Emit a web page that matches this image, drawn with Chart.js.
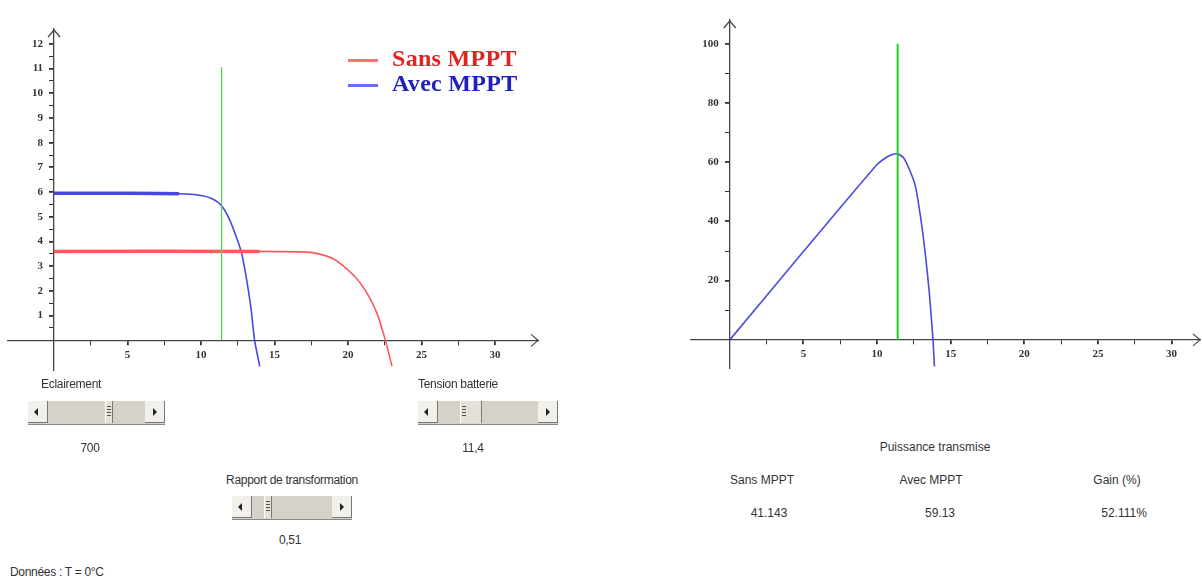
<!DOCTYPE html>
<html>
<head>
<meta charset="utf-8">
<script src="https://cdn.jsdelivr.net/npm/chart.js@4/dist/chart.umd.min.js"></script>
<style>
  body { margin: 0; background: #fff; }
  #wrap { position: relative; width: 1202px; height: 580px; overflow: hidden; font-family: "Liberation Sans", Arial, sans-serif; color: #333; }
  canvas { position: absolute; }
  .lbl { position: absolute; font-size: 12px; white-space: nowrap; letter-spacing: -0.3px; }
  .ctr { transform: translateX(-50%); }
  .legend { position: absolute; font-family: "Liberation Serif", "Times New Roman", serif; font-weight: bold; font-size: 24px; letter-spacing: 0.3px; white-space: nowrap; }
  .legend i { position: absolute; left: -44px; top: 14px; width: 30px; height: 3px; }
  .sb { position: absolute; height: 23px; background: #d6d2ca; border-bottom: 1px solid #888; }
  .sb .btn { position: absolute; top: 0; width: 20px; height: 22px; background: #f2f0ea; border-right: 1px solid #777; border-bottom: 1px solid #777; box-sizing: border-box; }
  .sb .btn.l { left: 0; }
  .sb .btn.r { right: 0; }
  .sb .btn::after { content: ""; position: absolute; top: 7px; border-top: 4px solid transparent; border-bottom: 4px solid transparent; }
  .sb .btn.l::after { left: 6px; border-right: 4px solid #222; }
  .sb .btn.r::after { left: 8px; border-left: 4px solid #222; }
  .sb .thumb { position: absolute; top: 0; width: 8px; height: 22px; background: #e4e1da; border-left: 1px solid #fff; border-right: 1px solid #777; box-sizing: border-box; }
  .sb .thumb::after { content: ""; position: absolute; left: 1px; top: 5px; width: 4px; height: 12px; background: repeating-linear-gradient(#555 0 1px, transparent 1px 3px); }
  .res { position: absolute; font-size: 12px; white-space: nowrap; transform: translateX(-50%); }
</style>
</head>
<body>
<div id="wrap">
  <canvas id="ivChart" width="532" height="369" style="left:7px; top:15px;"></canvas>
  <canvas id="pChart" width="511" height="376" style="left:690px; top:6px;"></canvas>

  <div class="legend" style="left:392px; top:45px; color:#e02424;"><i style="background:#ff7272;"></i>Sans MPPT</div>
  <div class="legend" style="left:392px; top:70px; color:#2020c0;"><i style="background:#6a6aff;"></i>Avec MPPT</div>

  <div class="lbl" style="left:41px; top:377px;">Eclairement</div>
  <div class="sb" style="left:28px; top:401px; width:137px;"><div class="btn l"></div><div class="thumb" style="left:77px;"></div><div class="btn r"></div></div>
  <div class="lbl ctr" style="left:90px; top:441px;">700</div>

  <div class="lbl" style="left:418px; top:377px;">Tension batterie</div>
  <div class="sb" style="left:418px; top:401px; width:140px;"><div class="btn l"></div><div class="thumb" style="left:42px; width:22px;"></div><div class="btn r"></div></div>
  <div class="lbl ctr" style="left:473px; top:441px;">11,4</div>

  <div class="lbl ctr" style="left:292px; top:473px;">Rapport de transformation</div>
  <div class="sb" style="left:232px; top:496px; width:120px;"><div class="btn l"></div><div class="thumb" style="left:32px;"></div><div class="btn r"></div></div>
  <div class="lbl ctr" style="left:290px; top:533px;">0,51</div>

  <div class="lbl" style="left:10px; top:565px;">Données : T = 0°C</div>

  <div class="res" style="left:935px; top:440px;">Puissance transmise</div>
  <div class="res" style="left:762px; top:473px;">Sans MPPT</div>
  <div class="res" style="left:931px; top:473px;">Avec MPPT</div>
  <div class="res" style="left:1117px; top:473px;">Gain (%)</div>
  <div class="res" style="left:769px; top:506px;">41.143</div>
  <div class="res" style="left:940px; top:506px;">59.13</div>
  <div class="res" style="left:1124px; top:506px;">52.111%</div>
</div>

<script>
// courbes I(V) - gauche
const sansV = [0, 14, 17.2, 18, 19, 20, 20.8, 21.5, 22, 22.5, 23];
const sansI = [3.6, 3.6, 3.57, 3.5, 3.3, 2.85, 2.35, 1.7, 1.05, 0.1, -1.05];
const avecV = [0, 4, 8.5, 10, 10.8, 11.4, 11.9, 12.3, 12.75, 13.15, 13.4, 13.65, 14.0];
const avecI = [5.95, 5.95, 5.93, 5.86, 5.72, 5.45, 4.95, 4.35, 3.56, 2.3, 1.3, 0, -1.05];

// puissance transmise - droite
const puisV = [0, 5, 10, 10.6, 11.0, 11.4, 11.8, 12.2, 12.6, 13.0, 13.3, 13.55, 13.8, 13.9];
const puisP = [0, 29.8, 59.2, 61.5, 62.5, 62.8, 61.5, 57.5, 52, 40, 28, 16, 0, -9];

// tension batterie (ligne verte)
const tensionBatterie = 11.4;
const greenTopIV = 11.05;
const greenTopP = 100;

const xTicksMajor = [5, 10, 15, 20, 25, 30];
const ivTicksY = [1, 2, 3, 4, 5, 6, 7, 8, 9, 10, 11, 12];
const pTicksY = [20, 40, 60, 80, 100];

const pts = (xs, ys) => xs.map((x, i) => ({ x: x, y: ys[i] }));

// fleches au bout des axes
const arrows = {
  id: 'arrows',
  afterDraw(chart) {
    const { ctx, chartArea } = chart;
    const x0 = chart.scales.x.getPixelForValue(0);
    const y0 = chart.scales.y.getPixelForValue(0);
    ctx.save();
    ctx.strokeStyle = '#444';
    ctx.lineWidth = 1.2;
    ctx.beginPath();
    ctx.moveTo(chartArea.right - 8, y0 - 6);
    ctx.lineTo(chartArea.right - 1, y0);
    ctx.lineTo(chartArea.right - 8, y0 + 6);
    ctx.moveTo(x0 - 6, chartArea.top + 8);
    ctx.lineTo(x0, chartArea.top + 1);
    ctx.lineTo(x0 + 6, chartArea.top + 8);
    ctx.stroke();
    ctx.restore();
  }
};

function axisX(min, max) {
  return {
    type: 'linear', min: min, max: max,
    position: { y: 0 },
    border: { color: '#444', width: 1.3 },
    grid: { drawOnChartArea: false, drawTicks: true, tickLength: 4, color: '#333',
            lineWidth: c => (xTicksMajor.includes(c.tick.value) ? 1.8 : 1) },
    afterBuildTicks: s => { s.ticks = s.ticks.filter(t => t.value > 0 && t.value <= 30); },
    ticks: {
      stepSize: 2.5, autoSkip: false, maxRotation: 0, padding: 4, color: '#333',
      font: { family: '"Liberation Serif", serif', size: 11, weight: 'bold' },
      callback: v => (xTicksMajor.includes(v) ? String(v) : '')
    }
  };
}

// les etiquettes de l'axe vertical sont collees a l'axe : espaces pour les decaler
function axisY(min, max, step, top, labels) {
  return {
    type: 'linear', min: min, max: max,
    position: { x: 0 },
    border: { color: '#444', width: 1.3 },
    grid: { drawOnChartArea: false, drawTicks: true, tickLength: 4, color: '#333',
            lineWidth: c => (labels.includes(c.tick.value) ? 1.8 : 1) },
    afterBuildTicks: s => { s.ticks = s.ticks.filter(t => t.value > 0 && t.value <= top); },
    ticks: {
      stepSize: step, autoSkip: false, padding: 4, color: '#333',
      font: { family: '"Liberation Serif", serif', size: 11, weight: 'bold' },
      callback: v => (labels.includes(v) ? String(v) + '\u2002\u2002' : '')
    }
  };
}

const common = {
  responsive: false,
  animation: false,
  layout: { padding: { top: 14, bottom: 14, left: 0, right: 0 } },
  plugins: { legend: { display: false }, tooltip: { enabled: false } },
  elements: { point: { radius: 0 }, line: { tension: 0.3 } }
};

new Chart(document.getElementById('ivChart'), {
  type: 'scatter',
  data: {
    datasets: [
      { label: 'Tension batterie', data: pts([tensionBatterie, tensionBatterie], [0, greenTopIV]),
        showLine: true, borderColor: '#5ccc5c', borderWidth: 1.3, tension: 0 },
      { label: 'Sans MPPT', data: pts(sansV, sansI), showLine: true, borderColor: '#ff5a5a', borderWidth: 1.6,
        segment: { borderWidth: c => (c.p1.parsed.x <= 14 ? 3.5 : 1.6) } },
      { label: 'Avec MPPT', data: pts(avecV, avecI), showLine: true, borderColor: '#4646e6', borderWidth: 1.6,
        segment: { borderWidth: c => (c.p1.parsed.x <= 8.5 ? 3.5 : 1.6) } }
    ]
  },
  options: Object.assign({}, common, {
    scales: { x: axisX(-3.2, 33.0), y: axisY(-1.2, 12.6, 0.5, 12, ivTicksY) }
  }),
  plugins: [arrows]
});

new Chart(document.getElementById('pChart'), {
  type: 'scatter',
  data: {
    datasets: [
      { label: 'Tension batterie', data: pts([tensionBatterie, tensionBatterie], [0, greenTopP]),
        showLine: true, borderColor: '#22d022', borderWidth: 2, tension: 0 },
      { label: 'Puissance', data: pts(puisV, puisP), showLine: true, borderColor: '#4a4ae0', borderWidth: 1.6,
        tension: 0.2 }
    ]
  },
  options: Object.assign({}, common, {
    scales: { x: axisX(-2.7, 32.0), y: axisY(-9.5, 108, 10, 100, pTicksY) }
  }),
  plugins: [arrows]
});
</script>
</body>
</html>
